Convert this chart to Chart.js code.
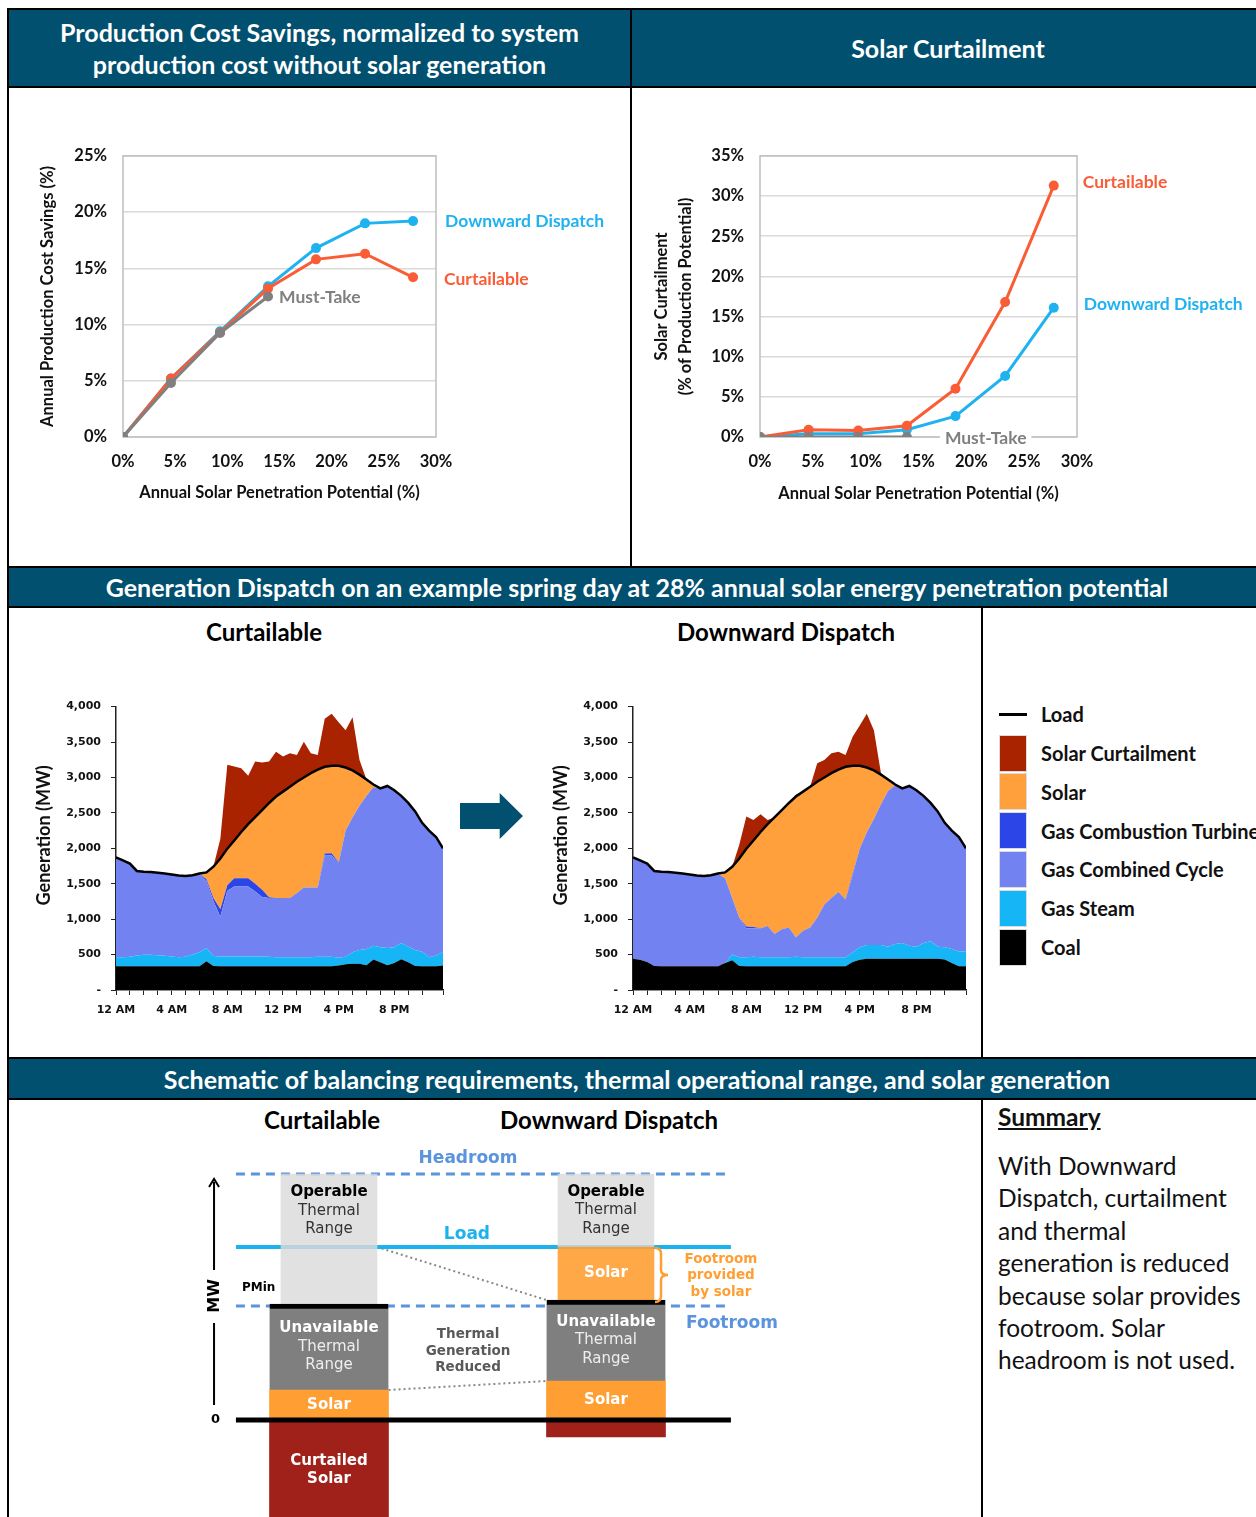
<!DOCTYPE html>
<html lang="en">
<head>
<meta charset="UTF-8">
<meta name="viewport" content="width=device-width, initial-scale=1.0">
<title>Solar Curtailment and Downward Dispatch</title>
<script src="https://cdn.jsdelivr.net/npm/chart.js"></script>
<style>
  body { margin: 0; background: #fff; font-family: Lato, "Open Sans", sans-serif; }
  #page { position: relative; width: 1256px; height: 1517px; overflow: hidden; background: #fff; }
  .ln { position: absolute; background: #000; }
  .hdr { position: absolute; background: #02506F; color: #fff; font-weight: 700; font-size: 25px;
         line-height: 32px; display: flex; align-items: center; justify-content: center; text-align: center; white-space: nowrap; }
  .sub { position: absolute; font-weight: 700; font-size: 24px; line-height: 30px; color: #000;
         transform: translateX(-50%); white-space: nowrap; }
  canvas { position: absolute; }
  #arrow { position: absolute; left: 460px; top: 793px; width: 63px; height: 46px; background: #02506F;
           clip-path: polygon(0 22%, 63% 22%, 63% 0, 100% 50%, 63% 100%, 63% 78%, 0 78%); }
  .lg { position: absolute; left: 999px; width: 28px; height: 37px; box-sizing: border-box; border: 1px solid #dcdcdc; }
  .lgt { position: absolute; left: 1041px; font-weight: 700; font-size: 20px; line-height: 24px; white-space: nowrap; color: #111; }
  #summary { position: absolute; left: 998px; top: 1101px; width: 258px; font-size: 24.5px; color: #111; }
  #summary h3 { margin: 0; font-size: 24.5px; line-height: 32px; text-decoration: underline; font-weight: 700; }
  #summary p { margin: 17px 0 0 0; line-height: 32.4px; white-space: nowrap; }
</style>
</head>
<body>
<div id="page">
  <div class="hdr" style="left:9px;top:10px;width:621px;height:76px">Production Cost Savings, normalized to system<br>production cost without solar generation</div>
  <div class="hdr" style="left:632px;top:10px;width:616px;height:76px;padding-left:8px">Solar Curtailment</div>
  <div class="hdr" style="left:9px;top:568px;width:1238px;height:38px;padding-left:9px">Generation Dispatch on an example spring day at 28% annual solar energy penetration potential</div>
  <div class="hdr" style="left:9px;top:1059px;width:1238px;height:39px;padding-left:9px">Schematic of balancing requirements, thermal operational range, and solar generation</div>

  <div class="ln" style="left:7px;top:8px;width:1249px;height:2px"></div>
  <div class="ln" style="left:7px;top:8px;width:2px;height:1509px"></div>
  <div class="ln" style="left:7px;top:86px;width:1249px;height:2px"></div>
  <div class="ln" style="left:630px;top:8px;width:2px;height:560px"></div>
  <div class="ln" style="left:7px;top:566px;width:1249px;height:2px"></div>
  <div class="ln" style="left:7px;top:606px;width:1249px;height:2px"></div>
  <div class="ln" style="left:981px;top:606px;width:2px;height:452px"></div>
  <div class="ln" style="left:7px;top:1057px;width:1249px;height:2px"></div>
  <div class="ln" style="left:7px;top:1098px;width:1249px;height:2px"></div>
  <div class="ln" style="left:981px;top:1098px;width:2px;height:419px"></div>

  <canvas id="savingsChart" width="590" height="390" style="left:30px;top:130px"></canvas>
  <canvas id="curtailChart" width="616" height="390" style="left:640px;top:130px"></canvas>

  <div class="sub" style="left:264px;top:617px">Curtailable</div>
  <div class="sub" style="left:786px;top:617px">Downward Dispatch</div>
  <canvas id="dispatchCurt" width="430" height="340" style="left:30px;top:690px"></canvas>
  <canvas id="dispatchDown" width="430" height="340" style="left:550px;top:690px"></canvas>
  <div id="arrow"></div>
  <div id="legend"></div>

  <div id="schemHeads"></div>
  <canvas id="schematic" width="620" height="377" style="left:180px;top:1140px"></canvas>

  <div id="summary">
    <h3>Summary</h3>
    <p>With Downward<br>Dispatch, curtailment<br>and thermal<br>generation is reduced<br>because solar provides<br>footroom. Solar<br>headroom is not used.</p>
  </div>
</div>

<script>
// ---------- top: line charts ----------
const penetration = [0, 4.6, 9.3, 13.9, 18.5, 23.2, 27.8];   // annual solar penetration potential, %
const savingsDownward = [0, 5.2, 9.4, 13.4, 16.8, 19.0, 19.2];
const savingsCurtailable = [0, 5.2, 9.3, 13.2, 15.8, 16.3, 14.2];
const savingsMustTake = [0, 4.8, 9.25, 12.5];
const curtailCurtailable = [0, 0.9, 0.8, 1.4, 6.0, 16.8, 31.3];
const curtailDownward = [0, 0.4, 0.4, 0.9, 2.6, 7.6, 16.1];
const curtailMustTake = [0, 0, 0, 0];

// ---------- middle: dispatch on a spring day (MW, half-hourly) ----------
const hours = [0,0.5,1,1.5,2,2.5,3,3.5,4,4.5,5,5.5,6,6.5,7,7.5,8,8.5,9,9.5,10,10.5,11,11.5,
               12,12.5,13,13.5,14,14.5,15,15.5,16,16.5,17,17.5,18,18.5,19,19.5,20,20.5,21,21.5,22,22.5,23,23.5];
const hourLabels = ['12 AM', '4 AM', '8 AM', '12 PM', '4 PM', '8 PM'];
const loadMW = [1870,1830,1785,1680,1670,1665,1655,1645,1630,1615,1610,1620,1645,1660,1740,1855,1995,2110,2230,2340,2440,2540,2640,2730,
                2800,2870,2940,3000,3060,3110,3150,3165,3165,3140,3100,3040,2970,2900,2845,2880,2820,2740,2640,2520,2360,2250,2160,2000];

// Curtailable case: upper edge of each stacked band, and curtailed MW above load
const curtCoalTop = [335,335,335,335,335,335,335,335,335,335,335,335,335,405,340,335,335,335,335,335,335,335,335,335,
                     335,335,335,335,335,335,335,335,345,365,370,370,350,430,390,350,380,435,390,340,335,335,335,345];
const curtSteamTop = [464,464,470,487,496,496,490,483,473,464,470,500,534,594,480,473,473,473,473,473,473,473,468,464,
                      464,464,464,464,464,468,470,470,455,470,534,566,580,626,603,594,603,663,612,566,540,464,487,534];
const curtCCTop = [1870,1830,1785,1680,1670,1665,1655,1645,1630,1615,1610,1620,1640,1540,1255,1035,1400,1460,1460,1460,1390,1313,1300,1300,
                   1300,1300,1370,1448,1448,1448,1900,1900,1790,2250,2436,2600,2740,2860,2845,2880,2820,2740,2640,2520,2360,2250,2160,2000];
const curtCTTop = [1870,1830,1785,1680,1670,1665,1655,1645,1630,1615,1610,1620,1640,1565,1300,1140,1480,1577,1577,1577,1500,1415,1310,1300,
                   1300,1300,1370,1448,1448,1448,1925,1930,1800,2250,2436,2600,2740,2860,2845,2880,2820,2740,2640,2520,2360,2250,2160,2000];
const curtCurtailedMW = [0,0,0,0,0,0,0,0,0,0,0,0,0,0,0,280,1185,1045,900,685,785,670,585,634,
                         494,470,378,503,280,208,678,733,615,525,750,208,0,0,0,0,0,0,0,0,0,0,0,0];

// Downward Dispatch case
const downCoalTop = [440,427,394,340,335,335,335,335,335,335,335,335,335,380,420,340,335,335,335,335,335,335,335,335,
                     335,335,335,335,335,335,335,394,427,440,440,440,440,440,440,440,440,440,440,440,430,380,335,335];
const downSteamTop = [440,427,394,340,335,335,335,335,335,335,335,335,335,380,500,464,464,470,464,464,464,464,464,470,
                      464,464,464,464,464,464,464,534,603,636,636,636,612,650,663,626,612,663,687,612,603,580,543,548];
const downCCTop = [1870,1830,1785,1680,1670,1665,1655,1645,1630,1615,1610,1620,1640,1578,1300,1020,872,872,872,905,789,858,882,742,
                   835,882,1020,1206,1300,1383,1276,1624,1995,2227,2413,2622,2807,2890,2845,2880,2820,2740,2640,2520,2360,2250,2160,2000];
const downCTTop = [1870,1830,1785,1680,1670,1665,1655,1645,1630,1615,1610,1620,1640,1578,1300,1020,895,890,872,905,789,858,882,742,
                   835,882,1020,1206,1300,1383,1276,1645,1995,2227,2413,2622,2807,2890,2845,2880,2820,2740,2640,2520,2360,2250,2160,2000];
const downCurtailedMW = [0,0,0,0,0,0,0,0,0,0,0,0,0,0,0,195,455,290,250,60,0,0,0,30,
                         0,0,260,248,280,254,168,408,570,758,565,20,0,0,0,0,0,0,0,0,0,0,0,0];

const layerNames = ['Solar Curtailment', 'Solar', 'Gas Combustion Turbine', 'Gas Combined Cycle', 'Gas Steam', 'Coal'];
const layerColors = ['#A92300', '#FFA03C', '#2B45E6', '#7282F0', '#16B6F6', '#000000'];

// ---------- bottom: schematic (relative MW units) ----------
const schemCategories = ['Curtailable', 'Downward Dispatch'];
const schemX = [0, 1];
const curtailedSolarRange = [[-100, 0], [-17, 0]];
const usedSolarRange = [[0, 30], [0, 39]];
const unavailableRange = [[30, 116], [39, 120]];
const footroomSolarRange = [null, [120, 173]];
const operableRange = [[116, 246], [173, 246]];
const headroomLevel = 246;
const loadLevel = 173;
const footroomLevel = 114;
const zeroLevel = 0;

Chart.defaults.font.family = 'Lato, sans-serif';
Chart.defaults.color = '#111';
Chart.defaults.animation = false;
Chart.defaults.plugins.legend.display = false;
Chart.defaults.plugins.tooltip.enabled = false;

const pts = (xs, ys) => ys.map((y, i) => ({ x: xs[i], y }));

const plotBox = {
  id: 'plotBox',
  beforeDatasetsDraw(chart) {
    const { ctx, chartArea: a } = chart;
    ctx.save();
    ctx.strokeStyle = '#BFBFBF';
    ctx.lineWidth = 1.5;
    ctx.strokeRect(a.left, a.top, a.right - a.left, a.bottom - a.top);
    ctx.restore();
  }
};

// series name written next to the last point
const seriesLabels = {
  id: 'seriesLabels',
  afterDatasetsDraw(chart) {
    const ctx = chart.ctx;
    ctx.save();
    ctx.font = 'bold 17.5px Lato';
    ctx.textBaseline = 'middle';
    chart.data.datasets.forEach((ds, i) => {
      const pts = chart.getDatasetMeta(i).data;
      const last = pts[pts.length - 1];
      const x = last.x + ds.labelDx, y = last.y + ds.labelDy;
      if (ds.labelBg) {
        const w = ctx.measureText(ds.label).width;
        ctx.fillStyle = '#fff';
        ctx.fillRect(x - 5, y - 10, w + 10, 20);
      }
      ctx.fillStyle = ds.borderColor;
      ctx.fillText(ds.label, x, y);
    });
    ctx.restore();
  }
};

function lineChart(id, o) {
  return new Chart(document.getElementById(id), {
    type: 'line',
    data: {
      datasets: o.series.map(s => ({
        label: s.name, data: pts(penetration, s.values),
        borderColor: s.color, backgroundColor: s.color, pointBackgroundColor: s.color,
        borderWidth: 3, pointRadius: 5, pointBorderWidth: 0, pointHoverRadius: 5,
        labelDx: s.dx, labelDy: s.dy, labelBg: s.bg
      }))
    },
    options: {
      responsive: false,
      layout: { padding: { top: 25, right: o.padRight, left: 0, bottom: 0 } },
      scales: {
        x: {
          type: 'linear', min: 0, max: 30,
          grid: { display: false }, border: { display: false },
          ticks: { stepSize: 5, padding: 7, color: '#111', font: { size: 16.5, weight: 'bold' }, callback: v => v + '%' },
          title: { display: true, text: 'Annual Solar Penetration Potential (%)', color: '#111',
                   font: { size: 16.5, weight: 'bold' }, padding: { top: 0, bottom: o.xTitlePad } },
          afterFit: s => { s.height = 83; }
        },
        y: {
          min: 0, max: o.yMax,
          grid: { color: '#D9D9D9', lineWidth: 1.5, drawTicks: false }, border: { display: false },
          ticks: { stepSize: 5, padding: 16, color: '#111', font: { size: 16.5, weight: 'bold' }, callback: v => v + '%' },
          title: { display: true, text: o.yTitle, color: '#111',
                   font: { size: 16.5, weight: 'bold', lineHeight: 1.45 }, padding: { top: o.yTitlePad, bottom: 0 } },
          afterFit: s => { s.width = o.yAxisW; }
        }
      }
    },
    plugins: [plotBox, seriesLabels]
  });
}

const blue = '#1FB2F0', red = '#FA5C36', gray = '#808080';

lineChart('savingsChart', {
  yMax: 25, yAxisW: 93, padRight: 184, xTitlePad: 17, yTitlePad: 6,
  yTitle: 'Annual Production Cost Savings (%)',
  series: [
    { name: 'Must-Take', values: savingsMustTake, color: gray, dx: 11, dy: 1 },
    { name: 'Curtailable', values: savingsCurtailable, color: red, dx: 31, dy: 2 },
    { name: 'Downward Dispatch', values: savingsDownward, color: blue, dx: 32, dy: 0 }
  ]
});

lineChart('curtailChart', {
  yMax: 35, yAxisW: 120, padRight: 179, xTitlePad: 16, yTitlePad: 10,
  yTitle: ['Solar Curtailment', '(% of Production Potential)'],
  series: [
    { name: 'Must-Take', values: curtailMustTake, color: gray, dx: 38, dy: 1, bg: true },
    { name: 'Curtailable', values: curtailCurtailable, color: red, dx: 29, dy: -3 },
    { name: 'Downward Dispatch', values: curtailDownward, color: blue, dx: 30, dy: -3 }
  ]
});

// ---------- dispatch area charts ----------
// y title drawn by hand so it can sit a little above the plot centre, as in the source
const genTitle = {
  id: 'genTitle',
  afterDraw(chart, args, opts) {
    const { ctx, chartArea: a } = chart;
    ctx.save();
    ctx.translate(opts.x, (a.top + a.bottom) / 2 - 13);
    ctx.rotate(-Math.PI / 2);
    ctx.font = 'bold 18px Lato';
    ctx.fillStyle = '#111';
    ctx.textAlign = 'center';
    ctx.textBaseline = 'middle';
    ctx.fillText('Generation (MW)', 0, 0);
    ctx.restore();
  }
};

function dispatchChart(id, s, o) {
  const curtTop = loadMW.map((v, i) => v + s.curtailed[i]);
  // bottom-up band edges; solar fills up to the load line
  const edges = [s.coal, s.steam, s.cc, s.ct, loadMW, curtTop];
  const datasets = edges.map((top, k) => ({
    data: pts(hours, top),
    fill: k === 0 ? 'origin' : '-1',
    backgroundColor: layerColors[layerColors.length - 1 - k],
    borderWidth: 0, pointRadius: 0, tension: 0
  }));
  datasets.push({ data: pts(hours, loadMW), fill: false, borderColor: '#000', borderWidth: 2.5, pointRadius: 0, order: -1 });

  return new Chart(document.getElementById(id), {
    type: 'line',
    data: { datasets },
    options: {
      responsive: false,
      layout: { padding: { top: 12, right: o.padRight, left: 0, bottom: 0 } },
      plugins: { genTitle: { x: o.titleX } },
      scales: {
        x: {
          type: 'linear', min: 0, max: 23.5,
          grid: { display: true, drawOnChartArea: false, tickLength: 5, color: '#222' },
          border: { color: '#222', width: 1.5 },
          ticks: { stepSize: 1, autoSkip: false, maxRotation: 0, padding: 9, color: '#111',
                   font: { family: '"DejaVu Sans"', size: 11, weight: 'bold' },
                   callback: v => (v % 4 === 0 && v < 24) ? hourLabels[v / 4] : '' },
          afterFit: sc => { sc.height = 40; }
        },
        y: {
          min: 0, max: 4000,
          grid: { display: true, drawOnChartArea: false, tickLength: 5, color: '#222' },
          border: { color: '#222', width: 1.5 },
          ticks: { stepSize: 500, padding: 10, color: '#111', font: { family: '"DejaVu Sans"', size: 11, weight: 'bold' },
                   callback: v => v === 0 ? '-' : v.toLocaleString('en-US') },
          afterFit: sc => { sc.width = o.yAxisW; }
        }
      }
    },
    plugins: [genTitle]
  });
}

dispatchChart('dispatchCurt',
  { coal: curtCoalTop, steam: curtSteamTop, cc: curtCCTop, ct: curtCTTop, curtailed: curtCurtailedMW },
  { yAxisW: 86, padRight: 17, titleX: 14 });
dispatchChart('dispatchDown',
  { coal: downCoalTop, steam: downSteamTop, cc: downCCTop, ct: downCTTop, curtailed: downCurtailedMW },
  { yAxisW: 83, padRight: 14, titleX: 11 });

// legend
(function () {
  const lg = document.getElementById('legend');
  let html = '<div style="position:absolute;left:999px;top:713px;width:28px;height:3px;background:#000"></div>' +
             '<div class="lgt" style="top:702px">Load</div>';
  layerNames.forEach((name, i) => {
    const top = 734.5 + i * 38.8;
    html += `<div class="lg" style="top:${top}px;background:${layerColors[i]}"></div>` +
            `<div class="lgt" style="top:${top + 6.5}px">${name}</div>`;
  });
  lg.innerHTML = html;
})();

// ---------- schematic ----------
(function () {
  const heads = document.getElementById('schemHeads');
  const headX = [322, 609];
  heads.innerHTML = schemCategories.map((c, i) =>
    `<div class="sub" style="left:${headX[i]}px;top:1105px">${c}</div>`).join('');
})();

const outerBar = 119, innerBar = 96;        // bar widths, px
const outerHalf = 0.215, innerHalf = 0.173; // half widths in category units
const lineSpan = [-0.336, 1.451];
const schemFont = '"DejaVu Sans"';

function barSet(name, ranges, color, thickness, extra) {
  const data = [];
  ranges.forEach((r, i) => { if (r) data.push({ x: schemX[i], y: r, k: i }); });
  return Object.assign({ type: 'bar', label: name, data, backgroundColor: color, barThickness: thickness,
                         grouped: false, borderWidth: 0, order: 0 }, extra);
}
function refLine(p0, p1, style) {
  return Object.assign({ type: 'line', data: [{ x: p0[0], y: p0[1] }, { x: p1[0], y: p1[1] }],
                         pointRadius: 0, fill: false, order: 2 }, style);
}

const notes = [
  { lines: ['Headroom'], at: [0.502, 261], font: `bold 17px ${schemFont}`, color: '#5B94DC' },
  { lines: ['Load'], at: [0.498, 185], font: `bold 17px ${schemFont}`, color: '#1CB2EE' },
  { lines: ['Footroom'], at: [1.289, 96], align: 'left', font: `bold 17px ${schemFont}`, color: '#5B94DC' },
  { lines: ['PMin'], at: [-0.314, 132], align: 'left', font: `bold 12px ${schemFont}`, color: '#000' },
  { lines: ['0'], at: [-0.41, 0], font: `bold 13px ${schemFont}`, color: '#000' },
  { lines: ['Thermal', 'Generation', 'Reduced'], at: [0.502, 69], font: `bold 13.5px ${schemFont}`, color: '#595959', lh: 16.5 },
  { lines: ['Footroom', 'provided', 'by solar'], at: [1.415, 144.5], font: `bold 13.5px ${schemFont}`, color: '#FF9F33', lh: 16.5 }
];

const schemNotes = {
  id: 'schemNotes',
  afterDatasetsDraw(chart) {
    const { ctx, scales: { x, y } } = chart;
    ctx.save();
    ctx.textBaseline = 'middle';
    // text inside bars
    ctx.textAlign = 'center';
    chart.data.datasets.forEach((ds, di) => {
      if (!ds.texts) return;
      chart.getDatasetMeta(di).data.forEach((el, j) => {
        const k = ds.data[j].k;
        const lines = ds.texts[k];
        if (!lines) return;
        const cy = ds.textAt && ds.textAt[k] != null ? y.getPixelForValue(ds.textAt[k]) : (el.y + el.base) / 2;
        lines.forEach((t, n) => {
          ctx.font = ds.textFonts[n];
          ctx.fillStyle = ds.textColors[n];
          ctx.fillText(t, el.x, cy + (n - (lines.length - 1) / 2) * 18.5);
        });
      });
    });
    // free notes
    notes.forEach(nt => {
      ctx.font = nt.font;
      ctx.fillStyle = nt.color;
      ctx.textAlign = nt.align || 'center';
      const px = x.getPixelForValue(nt.at[0]), py = y.getPixelForValue(nt.at[1]);
      const lh = nt.lh || 18;
      nt.lines.forEach((t, n) => ctx.fillText(t, px, py + (n - (nt.lines.length - 1) / 2) * lh));
    });
    // MW axis arrow
    const ax = x.getPixelForValue(-0.415);
    ctx.strokeStyle = '#000'; ctx.lineWidth = 2;
    ctx.beginPath();
    ctx.moveTo(ax, y.getPixelForValue(15)); ctx.lineTo(ax, y.getPixelForValue(97));
    ctx.moveTo(ax, y.getPixelForValue(150)); ctx.lineTo(ax, y.getPixelForValue(238));
    ctx.stroke();
    const tip = y.getPixelForValue(241);
    ctx.beginPath();
    ctx.moveTo(ax - 5, tip + 8); ctx.lineTo(ax, tip); ctx.lineTo(ax + 5, tip + 8);
    ctx.stroke();
    ctx.save();
    ctx.translate(ax, y.getPixelForValue(124));
    ctx.rotate(-Math.PI / 2);
    ctx.textAlign = 'center';
    ctx.font = `bold 16px ${schemFont}`;
    ctx.fillStyle = '#000';
    ctx.fillText('MW', 0, 1);
    ctx.restore();
    // brace for footroom provided by solar
    const bx = x.getPixelForValue(1.177);
    const bt = y.getPixelForValue(loadLevel) + 1, bb = y.getPixelForValue(footroomSolarRange[1][0]) + 2;
    const bm = (bt + bb) / 2;
    ctx.strokeStyle = '#FF9F33'; ctx.lineWidth = 2.5;
    ctx.beginPath();
    ctx.moveTo(bx, bt);
    ctx.quadraticCurveTo(bx + 6, bt, bx + 6, bt + 6);
    ctx.lineTo(bx + 6, bm - 5);
    ctx.quadraticCurveTo(bx + 6, bm, bx + 13, bm);
    ctx.quadraticCurveTo(bx + 6, bm, bx + 6, bm + 5);
    ctx.lineTo(bx + 6, bb - 6);
    ctx.quadraticCurveTo(bx + 6, bb, bx, bb);
    ctx.stroke();
    ctx.restore();
  }
};

const boldW = `bold 15px ${schemFont}`, regW = `15px ${schemFont}`;
new Chart(document.getElementById('schematic'), {
  type: 'bar',
  data: {
    datasets: [
      refLine([lineSpan[0], zeroLevel], [lineSpan[1], zeroLevel], { borderColor: '#000', borderWidth: 5, order: -1 }),
      barSet('Curtailed Solar', curtailedSolarRange, '#A0211A', outerBar,
             { texts: [['Curtailed', 'Solar'], null], textFonts: [boldW, boldW], textColors: ['#fff', '#fff'] }),
      barSet('Solar', usedSolarRange, '#FF9F33', outerBar,
             { texts: [['Solar'], ['Solar']], textFonts: [boldW], textColors: ['#fff'] }),
      barSet('Unavailable Thermal Range', unavailableRange, '#7F7F7F', outerBar,
             { borderColor: '#000', borderWidth: { top: 5, right: 0, bottom: 0, left: 0 }, borderSkipped: 'start',
               texts: [['Unavailable', 'Thermal', 'Range'], ['Unavailable', 'Thermal', 'Range']],
               textFonts: [boldW, regW, regW], textColors: ['#fff', '#eee', '#eee'] }),
      barSet('Solar footroom', footroomSolarRange, 'rgba(255,159,51,0.9)', innerBar,
             { texts: [null, ['Solar']], textFonts: [boldW], textColors: ['#fff'] }),
      barSet('Operable Thermal Range', operableRange, 'rgba(218,218,218,0.82)', innerBar,
             { texts: [['Operable', 'Thermal', 'Range'], ['Operable', 'Thermal', 'Range']], textAt: [209, null],
               textFonts: [boldW, regW, regW], textColors: ['#000', '#333', '#333'] }),
      refLine([lineSpan[0], headroomLevel], [lineSpan[1], headroomLevel],
              { borderColor: '#5B94DC', borderWidth: 3, borderDash: [9, 6] }),
      refLine([lineSpan[0], footroomLevel], [lineSpan[1], footroomLevel],
              { borderColor: '#5B94DC', borderWidth: 3, borderDash: [9, 6] }),
      refLine([lineSpan[0], loadLevel], [lineSpan[1], loadLevel], { borderColor: '#1CB2EE', borderWidth: 4 }),
      refLine([innerHalf, loadLevel], [1 - outerHalf, unavailableRange[1][1]],
              { borderColor: '#888', borderWidth: 2, borderDash: [2, 3] }),
      refLine([outerHalf, usedSolarRange[0][1]], [1 - outerHalf, usedSolarRange[1][1]],
              { borderColor: '#888', borderWidth: 2, borderDash: [2, 3] })
    ]
  },
  options: {
    responsive: false,
    layout: { padding: 0 },
    scales: {
      x: { type: 'linear', min: -0.5379, max: 1.7004, offset: false, display: false },
      y: { min: -97, max: 280, display: false }
    }
  },
  plugins: [schemNotes]
});
</script>
</body>
</html>
